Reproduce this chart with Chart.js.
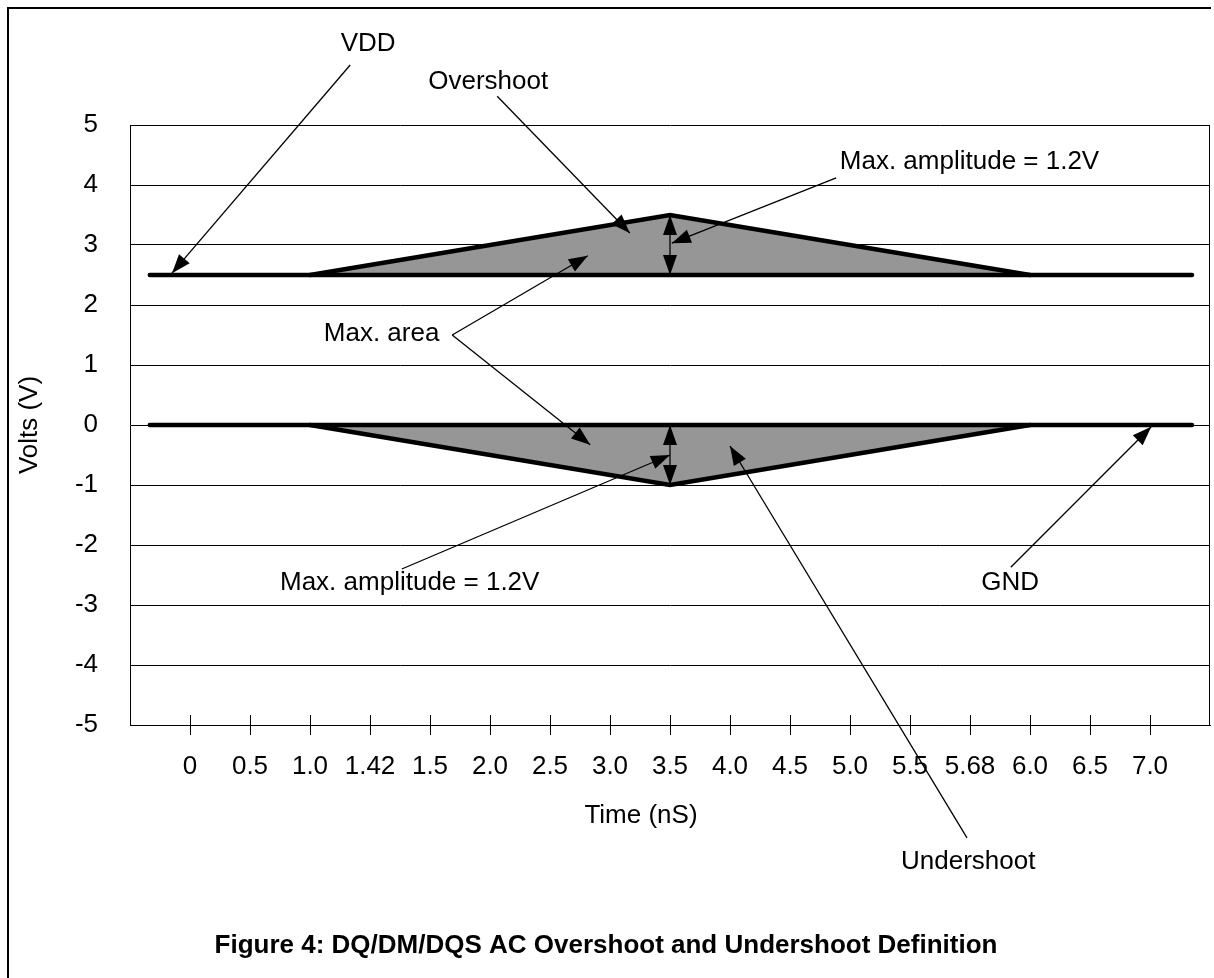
<!DOCTYPE html>
<html>
<head>
<meta charset="utf-8">
<script src="https://cdn.jsdelivr.net/npm/chart.js@4.4.1/dist/chart.umd.min.js"></script>
<style>
  html, body { margin: 0; padding: 0; background: #fff; }
  canvas { display: block; }
</style>
</head>
<body>
<canvas id="chart" width="1214" height="978"></canvas>
<script>
// x axis is an index into the time labels (the labels are not evenly spaced in time)
const timeLabels = ['0','0.5','1.0','1.42','1.5','2.0','2.5','3.0','3.5','4.0','4.5','5.0','5.5','5.68','6.0','6.5','7.0'];
const voltTicks = [-5,-4,-3,-2,-1,0,1,2,3,4,5];

const vddLevel = 2.5;
const gndLevel = 0;
const railStart = -0.67;   // rails start a bit left of "0"
const railEnd = 16.7;      // and stop just short of the right border

const shapeTimes = ['1.0','3.5','6.0'];
const overshootVolts = [2.5, 3.5, 2.5];
const undershootVolts = [0, -1, 0];

// annotation arrows, in axis units: [fromX, fromY, toX, toY]
const arrows = [
  [2.67, 6.0, -0.3, 2.53],     // VDD
  [5.12, 5.48, 7.33, 3.2],     // Overshoot
  [10.77, 4.12, 8.03, 3.03],   // Max amplitude (top)
  [4.37, 1.5, 6.63, 2.82],     // Max area -> overshoot
  [4.37, 1.5, 6.67, -0.33],    // Max area -> undershoot
  [3.53, -2.4, 8.0, -0.5],     // Max amplitude (bottom)
  [12.95, -6.88, 9.0, -0.35],  // Undershoot
  [13.68, -2.37, 16.02, -0.03] // GND
];
// double headed amplitude markers: [x, y1, y2]
const amplitudeBars = [[8, 3.5, 2.5], [8, 0, -1]];

// text labels: [text, x, y, align]
const notes = [
  ['VDD', 2.97, 6.35, 'center'],
  ['Overshoot', 4.97, 5.72, 'center'],
  ['Max. amplitude = 1.2V', 10.83, 4.38, 'left'],
  ['Max. area', 2.23, 1.52, 'left'],
  ['Max. amplitude = 1.2V', 1.5, -2.63, 'left'],
  ['Undershoot', 12.97, -7.28, 'center'],
  ['GND', 13.67, -2.63, 'center']
];

const FONT = "'Liberation Sans', Arial, sans-serif";
const idx = t => timeLabels.indexOf(t);
const toPoints = (times, volts) => times.map((t, i) => ({ x: idx(t), y: volts[i] }));

function arrowHead(ctx, x1, y1, x2, y2, len, half) {
  const a = Math.atan2(y2 - y1, x2 - x1);
  ctx.beginPath();
  ctx.moveTo(x2, y2);
  ctx.lineTo(x2 - len * Math.cos(a) + half * Math.sin(a), y2 - len * Math.sin(a) - half * Math.cos(a));
  ctx.lineTo(x2 - len * Math.cos(a) - half * Math.sin(a), y2 - len * Math.sin(a) + half * Math.cos(a));
  ctx.closePath();
  ctx.fill();
}

const decorations = {
  id: 'decorations',
  afterDraw(chart) {
    const { ctx, chartArea: area, scales: { x, y } } = chart;
    ctx.save();
    ctx.strokeStyle = '#000';
    ctx.fillStyle = '#000';

    // right border of the plot box
    ctx.lineWidth = 1;
    ctx.beginPath();
    ctx.moveTo(area.right - 0.5, area.top);
    ctx.lineTo(area.right - 0.5, area.bottom);
    ctx.stroke();

    // tick marks crossing the time axis
    timeLabels.forEach((_, i) => {
      const px = Math.round(x.getPixelForValue(i)) + 0.5;
      ctx.beginPath();
      ctx.moveTo(px, area.bottom - 10);
      ctx.lineTo(px, area.bottom + 10);
      ctx.stroke();
    });

    // arrows
    ctx.lineWidth = 1.3;
    arrows.forEach(([fx, fy, tx, ty]) => {
      const x1 = x.getPixelForValue(fx), y1 = y.getPixelForValue(fy);
      const x2 = x.getPixelForValue(tx), y2 = y.getPixelForValue(ty);
      ctx.beginPath();
      ctx.moveTo(x1, y1);
      ctx.lineTo(x2, y2);
      ctx.stroke();
      arrowHead(ctx, x1, y1, x2, y2, 19, 7);
    });
    amplitudeBars.forEach(([bx, v1, v2]) => {
      const px = x.getPixelForValue(bx), p1 = y.getPixelForValue(v1), p2 = y.getPixelForValue(v2);
      ctx.beginPath();
      ctx.moveTo(px, p1);
      ctx.lineTo(px, p2);
      ctx.stroke();
      arrowHead(ctx, px, p2, px, p1, 20, 7);
      arrowHead(ctx, px, p1, px, p2, 20, 7);
    });

    // labels
    ctx.font = '26px ' + FONT;
    ctx.textBaseline = 'middle';
    notes.forEach(([t, nx, ny, align]) => {
      ctx.textAlign = align;
      ctx.fillText(t, x.getPixelForValue(nx), y.getPixelForValue(ny));
    });

    // axis titles
    ctx.textAlign = 'center';
    ctx.fillText('Time (nS)', 641, 816);
    ctx.save();
    ctx.translate(30, (area.top + area.bottom) / 2);
    ctx.rotate(-Math.PI / 2);
    ctx.fillText('Volts (V)', 0, 0);
    ctx.restore();

    // figure caption
    ctx.font = 'bold 26px ' + FONT;
    ctx.fillText('Figure 4: DQ/DM/DQS AC Overshoot and Undershoot Definition', 606, 946);

    // outer frame
    ctx.lineWidth = 2;
    ctx.beginPath();
    ctx.moveTo(8, 978);
    ctx.lineTo(8, 8);
    ctx.lineTo(1211, 8);
    ctx.stroke();
    ctx.restore();
  }
};

const lineStyle = {
  showLine: true,
  borderColor: '#000',
  borderWidth: 4.5,
  pointRadius: 0,
  borderCapStyle: 'round',
  borderJoinStyle: 'miter',
  tension: 0
};

new Chart(document.getElementById('chart'), {
  type: 'scatter',
  data: {
    datasets: [
      { ...lineStyle, label: 'VDD', data: [{ x: railStart, y: vddLevel }, { x: railEnd, y: vddLevel }] },
      { ...lineStyle, label: 'GND', data: [{ x: railStart, y: gndLevel }, { x: railEnd, y: gndLevel }] },
      { ...lineStyle, label: 'Overshoot', data: toPoints(shapeTimes, overshootVolts),
        fill: { value: vddLevel }, backgroundColor: '#969696' },
      { ...lineStyle, label: 'Undershoot', data: toPoints(shapeTimes, undershootVolts),
        fill: { value: gndLevel }, backgroundColor: '#969696' }
    ]
  },
  options: {
    responsive: false,
    animation: false,
    devicePixelRatio: 1,
    layout: { padding: { left: 0, top: 125, right: 4, bottom: 0 } },
    plugins: { legend: { display: false }, tooltip: { enabled: false } },
    scales: {
      x: {
        type: 'linear',
        min: -1,
        max: 17,
        afterBuildTicks: s => { s.ticks = timeLabels.map((_, i) => ({ value: i })); },
        afterFit: s => { s.height = 253; },
        grid: { display: false },
        border: { display: true, color: '#000', width: 1 },
        ticks: {
          autoSkip: false,
          maxRotation: 0,
          padding: 18,
          color: '#000',
          font: { family: FONT, size: 26 },
          callback: v => timeLabels[v]
        }
      },
      y: {
        min: -5,
        max: 5,
        afterBuildTicks: s => { s.ticks = voltTicks.map(v => ({ value: v })); },
        afterFit: s => { s.width = 130; },
        grid: { color: '#000', lineWidth: 1, drawTicks: false },
        border: { display: true, color: '#000', width: 1 },
        ticks: {
          padding: 32,
          color: '#000',
          font: { family: FONT, size: 26 },
          callback: v => String(v)
        }
      }
    }
  },
  plugins: [decorations]
});
</script>
</body>
</html>
